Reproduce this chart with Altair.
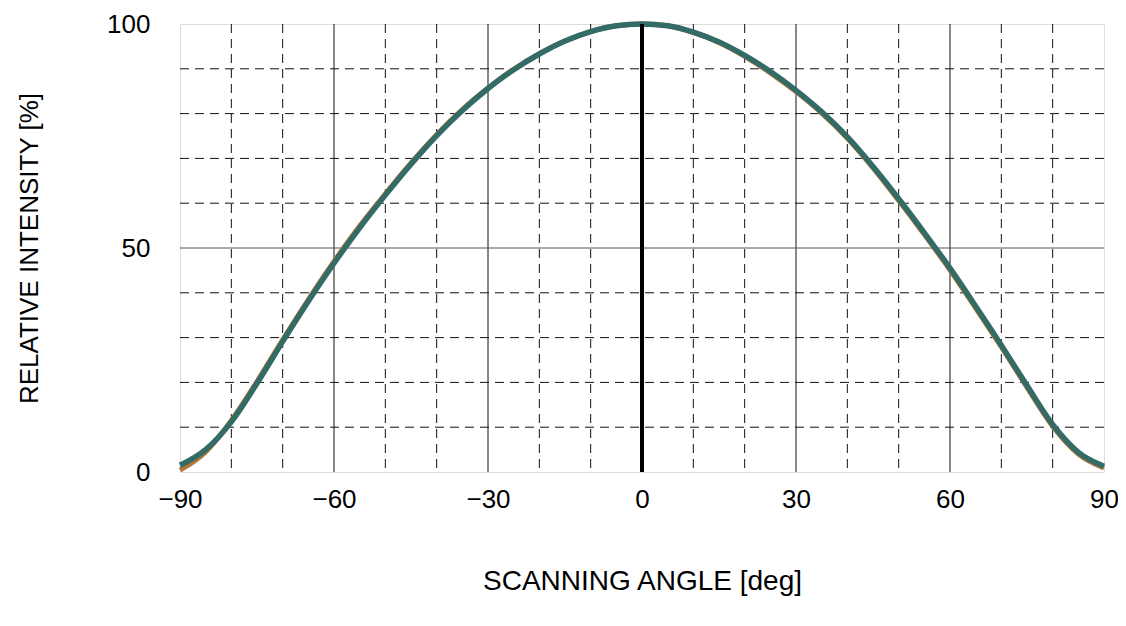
import altair as alt
import pandas as pd

# Scanning angle (deg) and relative intensity (%)
angles = [-90, -85, -80, -75, -70, -65, -60, -55, -50, -45, -40, -35, -30, -25, -20, -15, -10, -5,
          0, 5, 10, 15, 20, 25, 30, 35, 40, 45, 50, 55, 60, 65, 70, 75, 80, 85, 90]
teal_vals = [1.5, 5.0, 11.2, 19.8, 29.1, 38.1, 46.6, 54.5, 61.8, 68.7, 75.1, 80.7, 85.6, 89.8, 93.3, 96.2, 98.3, 99.6,
             100.0, 99.6, 98.2, 96.0, 93.0, 89.4, 85.2, 80.4, 74.8, 68.2, 61.0, 53.4, 45.5, 37.0, 28.3, 19.3, 10.6, 4.4, 1.3]
orange_vals = [0.4, 4.5, 11.5, 20.2, 29.5, 38.5, 47.0, 54.9, 62.1, 69.0, 75.3, 80.9, 85.7, 89.9, 93.4, 96.2, 98.3, 99.6,
               100.0, 99.6, 98.1, 95.9, 92.8, 89.1, 84.9, 80.1, 74.5, 67.9, 60.6, 53.0, 45.1, 36.6, 27.9, 18.9, 10.2, 4.0, 0.9]

x_ticks = [-90, -60, -30, 0, 30, 60, 90]
y_ticks = [0, 50, 100]
x_minor = [-80, -70, -50, -40, -20, -10, 10, 20, 40, 50, 70, 80]
x_major = [-60, -30, 30, 60]
y_minor = [10, 20, 30, 40, 60, 70, 80, 90]
y_major = [50]
center_line = [0]

FONT = "Liberation Sans"

xscale = alt.Scale(domain=[-90, 90], nice=False, zero=False)
yscale = alt.Scale(domain=[0, 100], nice=False)

xaxis = alt.Axis(values=x_ticks, title="SCANNING ANGLE [deg]", grid=False, ticks=False, domain=False,
                 labelFontSize=26, labelPadding=14, titleFontSize=28, titlePadding=55,
                 labelFont=FONT, titleFont=FONT, labelColor="black", titleColor="black",
                 titleFontWeight="normal", format="d", labelFlush=False)
yaxis = alt.Axis(values=y_ticks, title="RELATIVE INTENSITY [%]", grid=False, ticks=False, domain=False,
                 labelFontSize=26, labelPadding=30, titleFontSize=26, titlePadding=64,
                 labelFont=FONT, titleFont=FONT, labelColor="black", titleColor="black",
                 titleFontWeight="normal", format="d", labelFlush=False)

df = pd.DataFrame({"angle": angles, "teal": teal_vals, "orange": orange_vals})

base = alt.Chart(df)

xminor = alt.Chart(pd.DataFrame({"x": x_minor})).mark_rule(
    color="#111111", strokeWidth=1, strokeDash=[9, 6]).encode(
    x=alt.X("x:Q", scale=xscale, axis=xaxis))
xmajor = alt.Chart(pd.DataFrame({"x": x_major})).mark_rule(
    color="#111111", strokeWidth=1).encode(x=alt.X("x:Q", scale=xscale))
yminor = alt.Chart(pd.DataFrame({"y": y_minor})).mark_rule(
    color="#111111", strokeWidth=1, strokeDash=[9, 6]).encode(
    y=alt.Y("y:Q", scale=yscale, axis=yaxis))
ymajor = alt.Chart(pd.DataFrame({"y": y_major})).mark_rule(
    color="#555555", strokeWidth=1).encode(y=alt.Y("y:Q", scale=yscale))

orange = base.mark_line(color="#b5773a", strokeWidth=5, interpolate="monotone").encode(
    x=alt.X("angle:Q", scale=xscale), y=alt.Y("orange:Q", scale=yscale))
teal = base.mark_line(color="#336b66", strokeWidth=5.5, interpolate="monotone").encode(
    x=alt.X("angle:Q", scale=xscale), y=alt.Y("teal:Q", scale=yscale))

center = alt.Chart(pd.DataFrame({"x": center_line})).mark_rule(
    color="black", strokeWidth=4).encode(x=alt.X("x:Q", scale=xscale))

chart = alt.layer(xminor, yminor, xmajor, ymajor, orange, teal, center).properties(
    width=924, height=448,
    padding={"left": 172, "top": 16, "right": 14, "bottom": 130},
    autosize=alt.AutoSizeParams(type="none"),
).configure_view(stroke="black", strokeWidth=1.5).configure(background="white")

chart.save("out.html", embed_options={"renderer": "svg", "actions": False})
